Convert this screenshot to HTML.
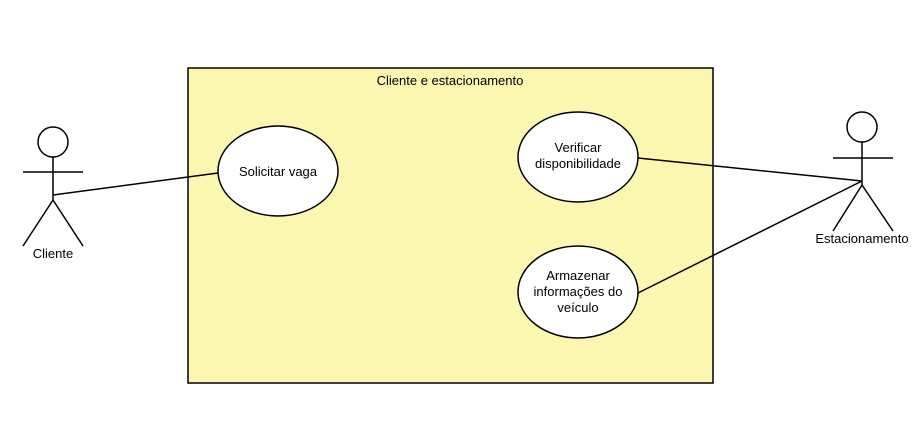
<!DOCTYPE html>
<html><head><meta charset="utf-8"><style>body{margin:0;background:#fff}</style></head><body>
<svg width="918" height="423" viewBox="0 0 918 423" xmlns="http://www.w3.org/2000/svg" font-family="Liberation Sans, sans-serif" font-size="13" fill="none" stroke="#000" stroke-width="1.5">
<rect x="188" y="68" width="525" height="315" fill="#fbf7b0" stroke="#000"/>
<text x="450" y="85" fill="#000" stroke="none" text-anchor="middle">Cliente e estacionamento</text>
<!-- Cliente actor -->
<circle cx="53" cy="142" r="15" fill="#fff"/>
<line x1="53" y1="157" x2="53" y2="200"/>
<line x1="23" y1="172" x2="83" y2="172"/>
<line x1="53" y1="200" x2="23" y2="246"/>
<line x1="53" y1="200" x2="83" y2="246"/>
<text x="53" y="258" fill="#000" stroke="none" text-anchor="middle">Cliente</text>
<!-- Estacionamento actor -->
<circle cx="862" cy="127" r="15" fill="#fff"/>
<line x1="862" y1="142" x2="862" y2="185"/>
<line x1="833" y1="158" x2="893" y2="158"/>
<line x1="862" y1="185" x2="833" y2="231"/>
<line x1="862" y1="185" x2="893" y2="231"/>
<text x="862" y="243" fill="#000" stroke="none" text-anchor="middle">Estacionamento</text>
<!-- connectors -->
<line x1="53" y1="195" x2="218" y2="173"/>
<line x1="638" y1="158" x2="862" y2="181"/>
<line x1="638" y1="293" x2="862" y2="181"/>
<!-- use cases -->
<ellipse cx="278" cy="171" rx="60" ry="45" fill="#fff"/>
<text x="278" y="176" fill="#000" stroke="none" text-anchor="middle">Solicitar vaga</text>
<ellipse cx="578" cy="157" rx="60" ry="45" fill="#fff"/>
<text x="578" y="152" fill="#000" stroke="none" text-anchor="middle">Verificar</text>
<text x="578" y="168" fill="#000" stroke="none" text-anchor="middle">disponibilidade</text>
<ellipse cx="578" cy="292" rx="60" ry="46" fill="#fff"/>
<text x="578" y="280" fill="#000" stroke="none" text-anchor="middle">Armazenar</text>
<text x="578" y="296" fill="#000" stroke="none" text-anchor="middle">informações do</text>
<text x="578" y="312" fill="#000" stroke="none" text-anchor="middle">veículo</text>
</svg>
</body></html>
